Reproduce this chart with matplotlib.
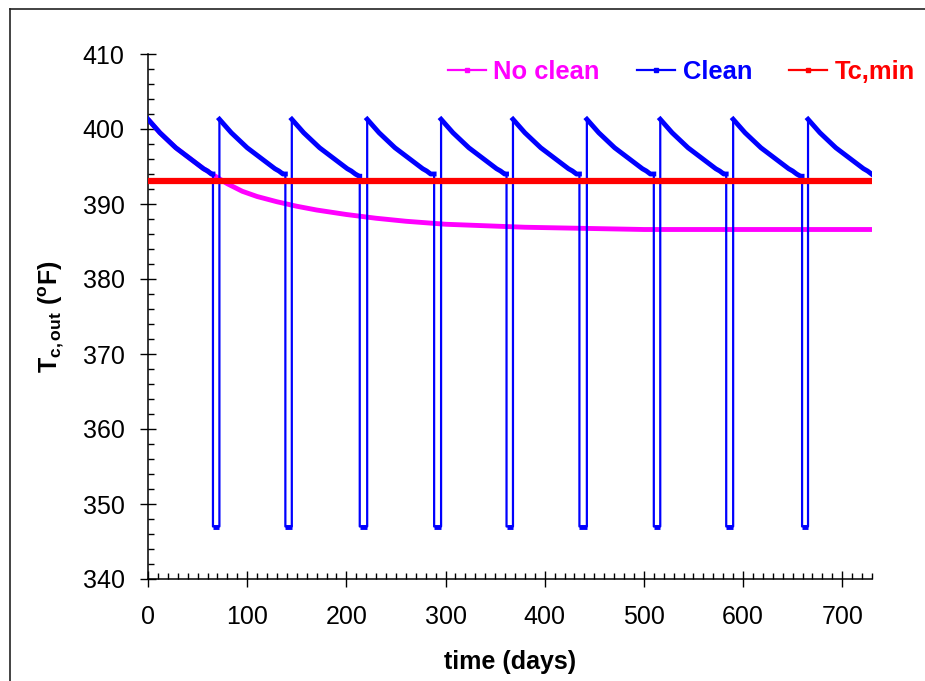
import matplotlib
matplotlib.use("Agg")
import matplotlib.pyplot as plt
from matplotlib.lines import Line2D
from matplotlib.ticker import MultipleLocator

plt.rcParams['font.family'] = 'Liberation Sans'
plt.rcParams['mathtext.fontset'] = 'custom'
plt.rcParams['mathtext.rm'] = 'Liberation Sans:bold'
plt.rcParams['mathtext.it'] = 'Liberation Sans:bold'
plt.rcParams['mathtext.bf'] = 'Liberation Sans:bold'

# fouling decay of outlet temperature within one operating run (days since cleaning)
run_day = [0, 4, 8, 12, 16, 20, 24, 28, 32, 36, 40, 44, 48, 52, 56, 60, 64, 68]
run_temp = [401.3, 400.7, 400.1, 399.5, 399.0, 398.5, 398.0, 397.5, 397.1,
            396.7, 396.3, 395.9, 395.5, 395.1, 394.7, 394.4, 394.0, 393.7]

# cleaning schedule: restart days and shutdown days
clean_on = [0, 72, 145, 221, 295.5, 368, 442.5, 516.5, 590, 665.5]
clean_off = [65.5, 138.5, 213.5, 288.5, 361.5, 435, 510, 583, 659.5]
clean_low = 347.0

# no cleaning
noclean_day = [0, 4, 8, 12, 16, 20, 24, 28, 32, 36, 40, 44, 48, 52, 56, 60, 64, 68,
               80, 95, 110, 130, 150, 170, 200, 230, 260, 300, 340, 380, 420, 460, 500, 730]
noclean_temp = [401.3, 400.7, 400.1, 399.5, 399.0, 398.5, 398.0, 397.5, 397.1,
                396.7, 396.3, 395.9, 395.5, 395.1, 394.7, 394.4, 394.0, 393.7,
                392.7, 391.7, 391.0, 390.3, 389.7, 389.2, 388.6, 388.1, 387.7,
                387.3, 387.1, 386.9, 386.8, 386.7, 386.6, 386.6]

tcmin_day = [0, 730]
tcmin_temp = [393.1, 393.1]

t_end = 730

# build the cleaned series
clean_t, clean_y = [], []
runs, downs = [], []
for i, on in enumerate(clean_on):
    stop = clean_off[i] if i < len(clean_off) else t_end
    rt = [on + d for d in run_day if on + d <= stop]
    ry = run_temp[:len(rt)]
    if i < len(clean_off):
        rt = rt + [stop]
        ry = ry + [ry[-1]]
    runs.append((rt, ry))
    clean_t += rt
    clean_y += ry
    if i < len(clean_off):
        dt = [stop, clean_on[i + 1]]
        dy = [clean_low, clean_low]
        downs.append((dt, dy))
        clean_t += dt
        clean_y += dy

fig = plt.figure(figsize=(9.25, 6.81), dpi=100)
ax = fig.add_axes([148 / 925, 1 - 579 / 681, (872 - 148) / 925, (579 - 54) / 681])

mag = '#FF00FF'
blue = '#0000FF'
red = '#FF0000'

ax.plot(noclean_day, noclean_temp, color=mag, lw=3.5, solid_capstyle='butt', zorder=2)
ax.plot(clean_t, clean_y, color=blue, lw=1.6, zorder=3)
for rt, ry in runs:
    ax.plot(rt, ry, color=blue, lw=3.5, zorder=3)
for dt, dy in downs:
    ax.plot(dt, dy, color=blue, lw=3.5, solid_capstyle='butt', zorder=3)
ax.plot(tcmin_day, tcmin_temp, color=red, lw=4.5, solid_capstyle='butt', zorder=4)

ax.set_xlim(0, t_end)
ax.set_ylim(340, 410)
ax.xaxis.set_major_locator(MultipleLocator(100))
ax.xaxis.set_minor_locator(MultipleLocator(10))
ax.yaxis.set_major_locator(MultipleLocator(10))
ax.yaxis.set_minor_locator(MultipleLocator(2))

for s in ['top', 'right']:
    ax.spines[s].set_visible(False)
for s in ['left', 'bottom']:
    ax.spines[s].set_linewidth(1.1)

ax.tick_params(which='major', direction='inout', length=11.5, width=1.0, labelsize=18)
ax.tick_params(axis='y', which='major', pad=11)
ax.tick_params(axis='x', which='major', pad=13)
ax.tick_params(which='minor', direction='in', length=4.3, width=1.0)

ax.set_xlabel('time (days)', fontsize=18, fontweight='bold', labelpad=15)
ax.set_ylabel(r'$T_{c,out}\ (^{o}F)$', fontsize=18, labelpad=12)

handles = [Line2D([], [], color=mag, lw=1.6, marker='s', ms=2.5),
           Line2D([], [], color=blue, lw=1.6, marker='s', ms=2.5),
           Line2D([], [], color=red, lw=1.6, marker='s', ms=2.5)]
leg = fig.legend(handles, ['No clean', 'Clean', 'Tc,min'], loc='center left',
                 bbox_to_anchor=(448 / 925, 1 - 72 / 681), ncol=3, frameon=False,
                 prop={'weight': 'bold', 'size': 18.4}, handlelength=1.5,
                 handletextpad=0.28, columnspacing=1.45, borderpad=0, borderaxespad=0)
for txt, c in zip(leg.get_texts(), [mag, blue, red]):
    txt.set_color(c)

# frame around the whole chart
fig.add_artist(Line2D([10 / 925, 10 / 925], [0, 1 - 9 / 681], color='#222222', lw=1.2))
fig.add_artist(Line2D([10 / 925, 1], [1 - 9 / 681, 1 - 9 / 681], color='#222222', lw=1.2))

fig.savefig('out.png', dpi=100)
